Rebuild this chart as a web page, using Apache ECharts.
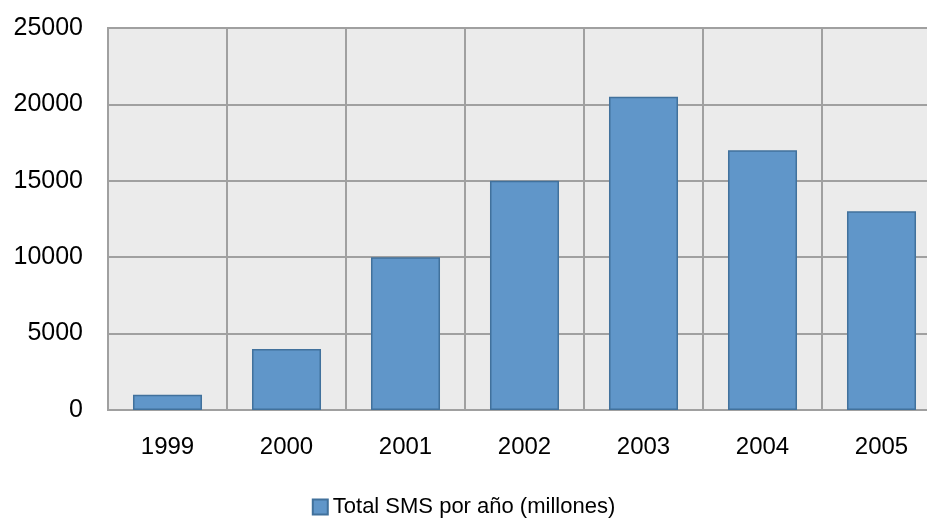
<!DOCTYPE html>
<html>
<head>
<meta charset="utf-8">
<script src="https://cdn.jsdelivr.net/npm/echarts@6/dist/echarts.min.js"></script>
<style>
  html, body { margin: 0; padding: 0; background: #fff; }
  #chart { width: 927px; height: 520px; }
</style>
</head>
<body>
<div id="chart"></div>
<script>
// Annual SMS totals (millions)
const years = ['1999', '2000', '2001', '2002', '2003', '2004', '2005'];
const smsTotals = [1000, 4000, 10000, 15000, 20500, 17000, 13000];
const seriesName = 'Total SMS por año (millones)';

const chart = echarts.init(document.getElementById('chart'), null, { renderer: 'canvas' });

const gridColor = '#a0a0a0';
const font = 'Liberation Sans, Arial, sans-serif';

chart.setOption({
  animation: false,
  backgroundColor: '#ffffff',
  grid: {
    left: 108,
    width: 833,   // last column runs past the right edge of the canvas
    top: 28,
    height: 382,
    outerBoundsMode: 'none',
    containLabel: false,
    show: true,
    backgroundColor: '#ebebeb',
    borderColor: gridColor,
    borderWidth: 2
  },
  legend: {
    top: 491,
    left: 'center',
    itemWidth: 15,
    itemHeight: 15,
    itemGap: 6,
    textStyle: { fontFamily: font, fontSize: 22, color: '#000' },
    data: [{ name: seriesName, icon: 'rect' }]
  },
  xAxis: {
    type: 'category',
    data: years,
    axisLine: { show: true, lineStyle: { color: gridColor, width: 2 } },
    axisTick: { show: false },
    splitLine: { show: true, lineStyle: { color: gridColor, width: 2 } },
    axisLabel: { fontFamily: font, fontSize: 24, color: '#000', margin: 25 }
  },
  yAxis: {
    type: 'value',
    min: 0,
    max: 25000,
    interval: 5000,
    axisLine: { show: false },
    axisTick: { show: false },
    splitLine: { show: true, lineStyle: { color: gridColor, width: 2 } },
    axisLabel: {
      fontFamily: font, fontSize: 25, color: '#000', margin: 25,
      padding: [8, 0, 0, 0],
      formatter: (v) => String(v)
    }
  },
  series: [{
    name: seriesName,
    type: 'bar',
    data: smsTotals,
    barWidth: '58%',
    itemStyle: {
      color: '#6096c9',
      borderColor: '#41719c',
      borderWidth: 1.5
    }
  }]
});
</script>
</body>
</html>
